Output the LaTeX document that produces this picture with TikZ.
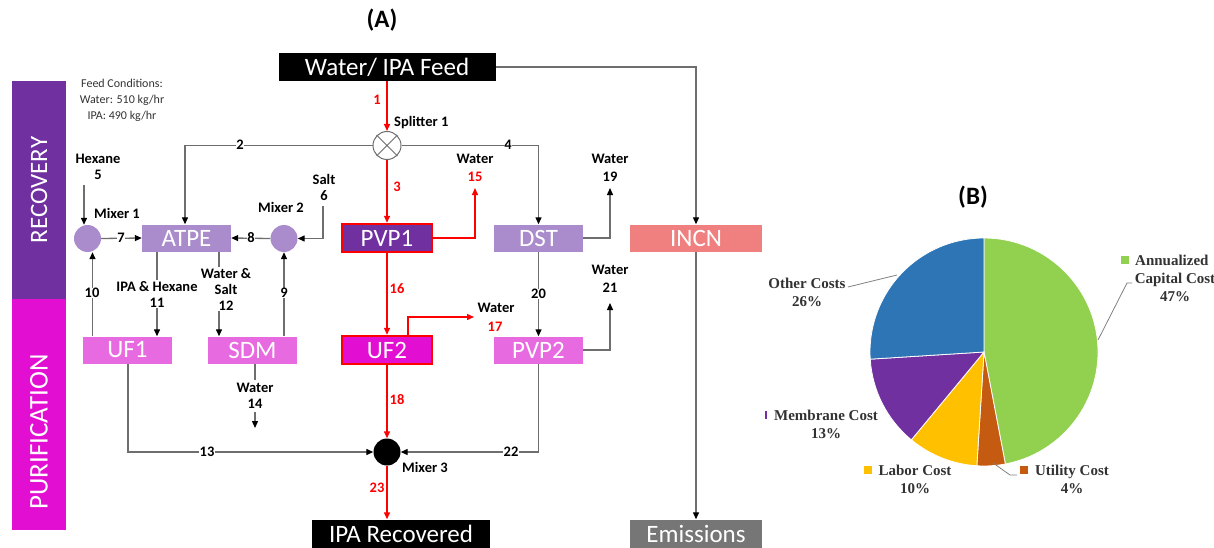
\documentclass[tikz,border=0pt]{standalone}
\usepackage{fontspec}
\setmainfont{Carlito}
\newfontfamily\pief{Liberation Serif}
\usetikzlibrary{arrows.meta,calc}
\definecolor{lpurple}{RGB}{170,140,205}
\definecolor{dpurple}{RGB}{112,48,160}
\definecolor{lmag}{RGB}{232,106,224}
\definecolor{mag}{RGB}{226,14,210}
\definecolor{salmon}{RGB}{240,128,128}
\definecolor{emgray}{RGB}{118,118,118}
\definecolor{lngray}{RGB}{110,110,110}
\definecolor{pgreen}{RGB}{146,208,80}
\definecolor{porange}{RGB}{197,90,17}
\definecolor{pyellow}{RGB}{255,192,0}
\definecolor{pblue}{RGB}{46,117,182}
\definecolor{ptext}{RGB}{50,50,50}
\tikzset{
  unitbox/.style={rectangle,minimum width=89pt,minimum height=27pt,text=white,inner sep=0pt,font=\fontsize{25}{25}\selectfont},
  hibox/.style={unitbox,draw=red,line width=2.5pt,minimum width=90pt,minimum height=28pt},
  endbox/.style={unitbox,fill=black},
  mixer/.style={circle,minimum size=27pt,inner sep=0pt},
  lbl/.style={inner sep=1pt,font=\fontsize{14.5}{16}\selectfont\bfseries,align=center},
  num/.style={lbl,fill=white,inner sep=0.5pt},
  rnum/.style={lbl,text=red},
  flow/.style={draw=lngray,line width=1.3pt,-{Triangle[length=7pt,width=6pt,color=black]}},
  rflow/.style={draw=red,line width=1.4pt,-{Triangle[length=7pt,width=6pt]}},
  plbl/.style={inner sep=0pt,font=\fontsize{15}{18}\selectfont\pief\bfseries,text=ptext,align=center},
  leader/.style={draw=gray,line width=0.8pt},
  legsq/.style={rectangle,minimum size=8pt,inner sep=0pt}
}
\begin{document}
\begin{tikzpicture}[x=1pt,y=-1pt]
\useasboundingbox (0,0) rectangle (1214,548);
% side bars
\fill[dpurple] (12,81) rectangle (66,299);
\fill[mag] (12,299) rectangle (66,530);
\node[rotate=90,text=white,font=\fontsize{25}{25}\selectfont] (recov) at (39,190) {RECOVERY};
\node[rotate=90,text=white,font=\fontsize{27}{27}\selectfont] (purif) at (39,432) {PURIFICATION};
% title
\node[font=\fontsize{25}{25}\selectfont\bfseries] (ta) at (382,20) {(A)};
\node[font=\fontsize{12}{16}\selectfont,text=ptext,align=center] (feedc) at (122,100) {Feed Conditions:\\Water: 510 kg/hr\\IPA: 490 kg/hr};
% units
\node[endbox,minimum width=217pt,minimum height=28pt] (feed) at (387,67) {Water/ IPA Feed};
\node[mixer,draw=lngray,fill=white,line width=1pt,minimum size=28pt] (split) at (387,145.5) {};
\draw[lngray,line width=1pt] (split.north west) -- (split.south east) (split.north east) -- (split.south west);
\node[lbl,anchor=west] (splab) at (393,123) {Splitter 1};
\node[unitbox,fill=lpurple] (atpe) at (186.5,238) {ATPE};
\node[hibox,fill=dpurple] (pvp1) at (387,238) {PVP1};
\node[unitbox,fill=lpurple] (dst) at (538.5,238) {DST};
\node[unitbox,fill=salmon,minimum width=132pt] (incn) at (696,238) {INCN};
\node[mixer,fill=lpurple] (mix1) at (87.5,238.5) {};
\node[mixer,fill=lpurple] (mix2) at (284,238.5) {};
\node[lbl,anchor=west] (m1lab) at (93,213) {Mixer 1};
\node[lbl] (m2lab) at (281,207) {Mixer 2};
\node[unitbox,fill=lmag] (uf1) at (127.5,350) {UF1};
\node[unitbox,fill=lmag] (sdm) at (252.5,350) {SDM};
\node[hibox,fill=mag] (uf2) at (387,350) {UF2};
\node[unitbox,fill=lmag] (pvp2) at (538.5,350) {PVP2};
\node[mixer,fill=black] (mix3) at (387,452) {};
\node[lbl,anchor=west] (m3lab) at (401,467) {Mixer 3};
\node[endbox,minimum width=178pt,minimum height=29pt] (ipa) at (401,534) {IPA Recovered};
\node[unitbox,fill=emgray,minimum width=132pt,minimum height=29pt] (emis) at (696,534) {Emissions};
% feed to incinerator
\draw[flow] (feed.east) -| (incn.north);
\draw[flow] (incn.south) -- (emis.north);
% stream 1, 3
\draw[rflow] (feed.south) -- (split.north);
\node[rnum] (n1) at (377,100) {1};
\draw[rflow] (split.south) -- (pvp1.north);
\node[rnum] (n3) at (397,187) {3};
% stream 2, 4
\draw[flow] (split.west) -| ([xshift=-1.5pt]atpe.north);
\node[num] (n2) at (240,145) {2};
\draw[flow] (split.east) -| (dst.north);
\node[num] (n4) at (508,145) {4};
% hexane 5
\node[lbl] (hex) at (98,167) {Hexane\\5};
\coordinate (h5) at (84,185);
\draw[flow] (h5) -- (h5 |- mix1.north);
% salt 6
\node[lbl] (salt) at (324,187) {Salt\\6};
\coordinate (s6) at (323,206);
\draw[flow] (s6) |- (mix2.east);
% 7, 8
\draw[flow] (mix1.east) -- (atpe.west);
\node[num] (n7) at (121,238) {7};
\draw[flow] (mix2.west) -- (atpe.east);
\node[num] (n8) at (251,238) {8};
% 10, 9
\draw[flow] ([xshift=-35pt]uf1.north) -- ([xshift=5pt]mix1.south);
\node[num] (n10) at (92,293) {10};
\draw[flow] ([xshift=31.5pt]sdm.north) -- (mix2.south);
\node[num] (n9) at (284,293) {9};
% 11, 12
\draw[flow] ([xshift=-29.5pt]atpe.south) -- ([xshift=29.5pt]uf1.north);
\node[num] (n11) at (157,294) {IPA \& Hexane\\11};
\draw[flow] ([xshift=32.5pt]atpe.south) -- ([xshift=-33.5pt]sdm.north);
\node[num] (n12) at (226,289) {Water \&\\Salt\\12};
% 15, 19
\coordinate (w15) at (475,188);
\draw[rflow] (pvp1.east) -| (w15);
\node[lbl] (wl15) at (475,159) {Water};
\node[rnum] (n15) at (475,177) {15};
\coordinate (w19) at (610,188);
\draw[flow] (dst.east) -| (w19);
\node[lbl] (wl19) at (610,159) {Water};
\node[lbl] (n19) at (610,177) {19};
% 16, 17
\draw[rflow] (pvp1.south) -- (uf2.north);
\node[rnum] (n16) at (397,289) {16};
\coordinate (w17) at (474,317);
\draw[rflow] ([xshift=21pt]uf2.north) |- (w17);
\node[lbl] (wl17) at (496,308) {Water};
\node[rnum] (n17) at (495,327) {17};
% 20, 21
\draw[flow] (dst.south) -- (pvp2.north);
\node[num] (n20) at (538.5,294) {20};
\coordinate (w21) at (610,303);
\draw[flow] (pvp2.east) -| (w21);
\node[lbl] (wl21) at (610,270) {Water};
\node[lbl] (n21) at (610,288) {21};
% 14
\coordinate (w14) at (255,428);
\draw[flow] ([xshift=2.5pt]sdm.south) -- (w14);
\node[num,inner ysep=3pt] (n14) at (255,396) {Water\\14};
% 13, 22, 18, 23
\draw[flow] ([xshift=0.5pt]uf1.south) |- (mix3.west);
\node[num] (n13) at (207,452) {13};
\draw[flow] (pvp2.south) |- (mix3.east);
\node[num] (n22) at (511,452) {22};
\draw[rflow] (uf2.south) -- (mix3.north);
\node[rnum] (n18) at (397,400) {18};
\draw[rflow] (mix3.south) -- (mix3 |- ipa.north);
\node[rnum] (n23) at (377,488) {23};
% pie chart
\node[font=\fontsize{25}{25}\selectfont\bfseries] (tb) at (973,197) {(B)};
\coordinate (pc) at (984,352);
\filldraw[fill=pgreen,draw=white,line width=0.8pt] (pc) -- ++(-90:114) arc[start angle=-90,end angle=79.2,radius=114] -- cycle;
\filldraw[fill=porange,draw=white,line width=0.8pt] (pc) -- ++(79.2:114) arc[start angle=79.2,end angle=93.6,radius=114] -- cycle;
\filldraw[fill=pyellow,draw=white,line width=0.8pt] (pc) -- ++(93.6:114) arc[start angle=93.6,end angle=129.6,radius=114] -- cycle;
\filldraw[fill=dpurple,draw=white,line width=0.8pt] (pc) -- ++(129.6:114) arc[start angle=129.6,end angle=176.4,radius=114] -- cycle;
\filldraw[fill=pblue,draw=white,line width=0.8pt] (pc) -- ++(176.4:114) arc[start angle=176.4,end angle=270,radius=114] -- cycle;
% pie labels
\node[legsq,fill=pgreen] (sqg) at (1125,260) {};
\node[plbl,anchor=west] (lacc) at (1135,260) {Annualized};
\node[plbl] (lacc2) at (1175,287) {Capital Cost\\47\%};
\draw[leader] (1132,283) -- (1127,283) -- (1098,340);
\node[plbl] (loth) at (807,292) {Other Costs\\26\%};
\draw[leader] (848,287) -- (897,275);
\fill[dpurple] (765,411) rectangle (767,419);
\node[plbl] (lmem) at (826,424) {Membrane Cost\\13\%};
\node[legsq,fill=pyellow] (sqy) at (868,470) {};
\node[plbl] (llab) at (915,479) {Labor Cost\\10\%};
\node[legsq,fill=porange] (sqo) at (1024,470) {};
\node[plbl] (lutil) at (1072,479) {Utility Cost\\4\%};
\draw[leader] (993,463) -- (1010,475) -- (1017,475);
\end{tikzpicture}
\end{document}
